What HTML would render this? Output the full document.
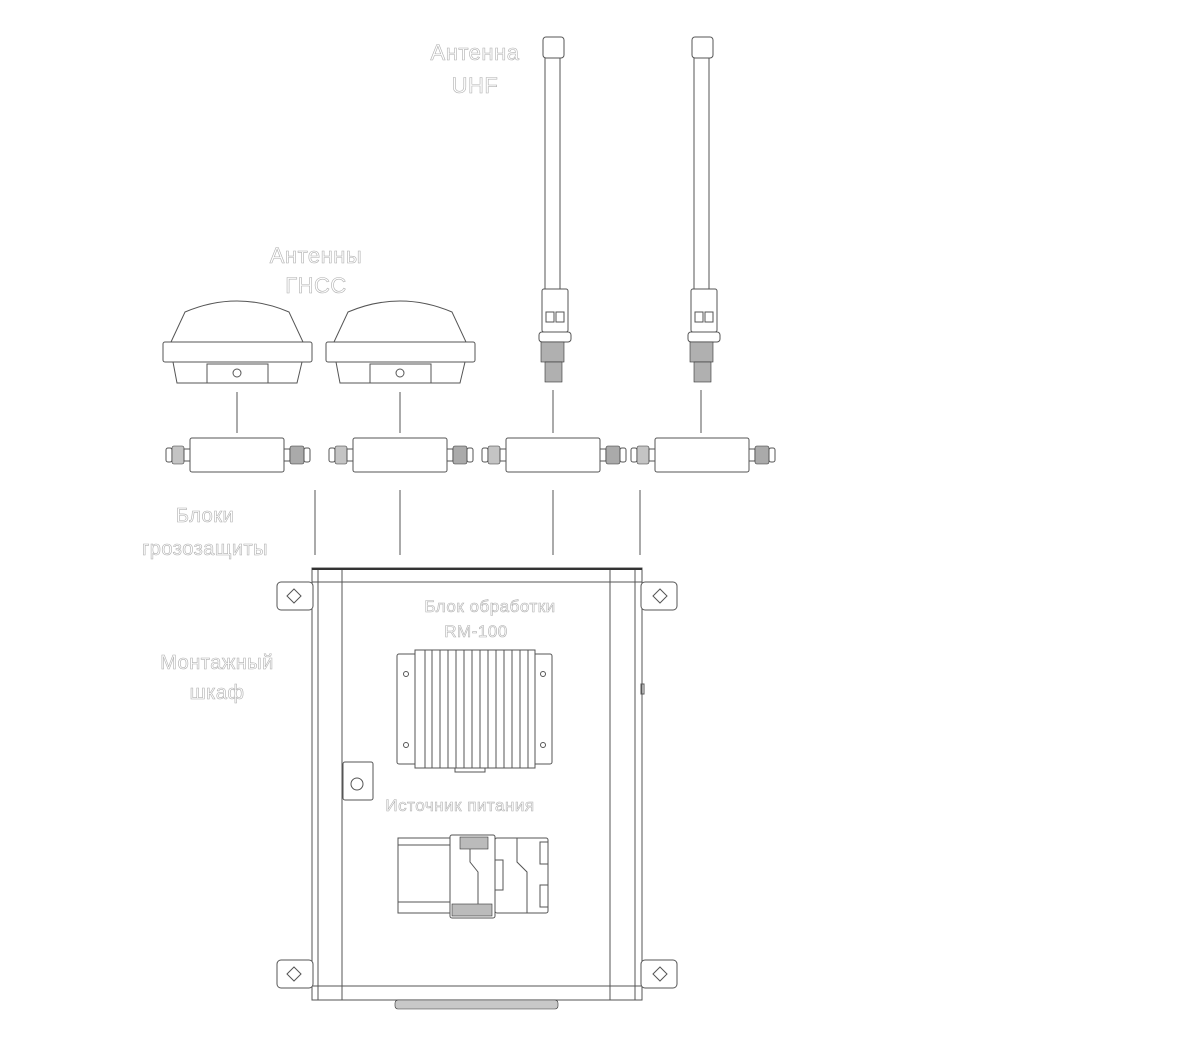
<!DOCTYPE html>
<html><head><meta charset="utf-8"><style>
html,body{margin:0;padding:0;background:#fff}
svg{display:block}
.t{font-family:"Liberation Sans",sans-serif;fill:#fff;stroke:#b0b0b0;stroke-width:0.6;text-anchor:middle;letter-spacing:0.5px}
.l{fill:none;stroke:#555;stroke-width:1}
.f{fill:#fff;stroke:#555;stroke-width:1}
.d{fill:#aaa;stroke:#333;stroke-width:0.6}
</style></head><body>
<svg width="1186" height="1038" viewBox="0 0 1186 1038" xmlns="http://www.w3.org/2000/svg">
<defs>
<g id="arr">
 <rect class="f" x="0" y="0" width="94" height="34" rx="2"/>
 <rect class="f" x="-24" y="10" width="6" height="14" rx="2"/>
 <rect class="d" x="-18" y="8" width="12" height="18" rx="2" style="fill:#c4c4c4"/>
 <rect class="f" x="-6" y="11" width="6" height="12"/>
 <rect class="f" x="94" y="11" width="6" height="12"/>
 <rect class="d" x="100" y="8" width="14" height="18" rx="2" style="fill:#aaa"/>
 <rect class="f" x="114" y="10" width="6" height="14" rx="2"/>
</g>
<g id="gnss">
 <path class="f" d="M8,44 L22,14 Q74,-8 126,14 L140,44 Z"/>
 <rect class="f" x="0" y="44" width="149" height="20" rx="2"/>
 <path class="f" d="M10,64 L139,64 L134,85 L14,85 Z"/>
 <rect class="f" x="44" y="66" width="61" height="19"/>
 <circle class="f" cx="74" cy="75" r="4"/>
</g>
<g id="uhf">
 <rect class="f" x="-10" y="0" width="21" height="21" rx="3"/>
 <line class="l" x1="-8" y1="21" x2="-8" y2="252"/>
 <line class="l" x1="7" y1="21" x2="7" y2="252"/>
 <rect class="f" x="-11" y="252" width="26" height="43" rx="2"/>
 <rect class="l" x="-7" y="275" width="8" height="10"/>
 <rect class="l" x="3" y="275" width="8" height="10"/>
 <rect class="f" x="-14" y="295" width="32" height="10" rx="3"/>
 <rect class="d" x="-12" y="305" width="23" height="20" style="fill:#b0b0b0"/>
 <rect class="d" x="-8" y="325" width="17" height="20" style="fill:#b0b0b0"/>
</g>
</defs>

<text class="t" x="475" y="60" font-size="22">Антенна</text>
<text class="t" x="475" y="93" font-size="22">UHF</text>
<text class="t" x="316" y="263" font-size="22">Антенны</text>
<text class="t" x="316" y="293" font-size="22">ГНСС</text>
<text class="t" x="205" y="522" font-size="20">Блоки</text>
<text class="t" x="205" y="555" font-size="20">грозозащиты</text>
<text class="t" x="217" y="669" font-size="20">Монтажный</text>
<text class="t" x="217" y="699" font-size="20">шкаф</text>

<use href="#uhf" x="553" y="37"/>
<use href="#uhf" x="702" y="37"/>

<use href="#gnss" x="163" y="298"/>
<use href="#gnss" x="326" y="298"/>

<line class="l" x1="237" y1="392" x2="237" y2="433"/>
<line class="l" x1="400" y1="392" x2="400" y2="433"/>
<line class="l" x1="553" y1="390" x2="553" y2="433"/>
<line class="l" x1="701" y1="390" x2="701" y2="433"/>

<use href="#arr" x="190" y="438"/>
<use href="#arr" x="353" y="438"/>
<use href="#arr" x="506" y="438"/>
<use href="#arr" x="655" y="438"/>

<line class="l" x1="315" y1="490" x2="315" y2="555"/>
<line class="l" x1="400" y1="490" x2="400" y2="555"/>
<line class="l" x1="553" y1="490" x2="553" y2="555"/>
<line class="l" x1="640" y1="490" x2="640" y2="555"/>

<rect class="f" x="312" y="568" width="330" height="432" rx="3"/>
<rect class="f" x="312" y="568" width="330" height="14"/>
<rect class="f" x="312" y="986" width="330" height="14"/>
<line class="l" x1="318" y1="568" x2="318" y2="1000"/>
<line class="l" x1="342" y1="568" x2="342" y2="1000"/>
<line class="l" x1="610" y1="568" x2="610" y2="1000"/>
<line class="l" x1="635" y1="568" x2="635" y2="1000"/>
<line x1="312" y1="569" x2="642" y2="569" stroke="#333" stroke-width="2"/>
<g>
<rect class="f" x="277" y="582" width="36" height="28" rx="4"/>
<path class="l" d="M287,596 L294,589 L301,596 L294,603 Z"/>
<rect class="f" x="641" y="582" width="36" height="28" rx="4"/>
<path class="l" d="M653,596 L660,589 L667,596 L660,603 Z"/>
<rect class="f" x="277" y="960" width="36" height="28" rx="4"/>
<path class="l" d="M287,974 L294,967 L301,974 L294,981 Z"/>
<rect class="f" x="641" y="960" width="36" height="28" rx="4"/>
<path class="l" d="M653,974 L660,967 L667,974 L660,981 Z"/>
</g>
<rect class="d" x="395" y="1000" width="163" height="9" rx="3" style="fill:#c8c8c8"/>
<rect class="l" x="641" y="684" width="3" height="10"/>

<text class="t" x="490" y="612" font-size="17">Блок обработки</text>
<text class="t" x="476" y="637" font-size="17">RM-100</text>

<rect class="f" x="397" y="654" width="155" height="110" rx="2"/>
<rect class="f" x="415" y="650" width="120" height="118"/>
<g class="l">
<line x1="425" y1="650" x2="425" y2="768"/><line x1="432" y1="650" x2="432" y2="768"/>
<line x1="440" y1="650" x2="440" y2="768"/><line x1="448" y1="650" x2="448" y2="768"/>
<line x1="456" y1="650" x2="456" y2="768"/><line x1="464" y1="650" x2="464" y2="768"/>
<line x1="472" y1="650" x2="472" y2="768"/><line x1="480" y1="650" x2="480" y2="768"/>
<line x1="488" y1="650" x2="488" y2="768"/><line x1="496" y1="650" x2="496" y2="768"/>
<line x1="504" y1="650" x2="504" y2="768"/><line x1="512" y1="650" x2="512" y2="768"/>
<line x1="520" y1="650" x2="520" y2="768"/><line x1="528" y1="650" x2="528" y2="768"/>
</g>
<circle class="l" cx="406" cy="674" r="2.5"/><circle class="l" cx="543" cy="674" r="2.5"/>
<circle class="l" cx="406" cy="745" r="2.5"/><circle class="l" cx="543" cy="745" r="2.5"/>
<rect class="l" x="455" y="768" width="30" height="4"/>

<rect class="f" x="343" y="762" width="30" height="38" rx="2"/>
<circle class="l" cx="357" cy="784" r="6"/>

<text class="t" x="460" y="811" font-size="17">Источник питания</text>

<rect class="f" x="398" y="838" width="52" height="75"/>
<line class="l" x1="398" y1="845" x2="450" y2="845"/>
<line class="l" x1="398" y1="902" x2="450" y2="902"/>
<rect class="f" x="450" y="835" width="45" height="83" rx="2"/>
<rect class="d" x="460" y="837" width="28" height="12" style="fill:#bbb"/>
<rect class="d" x="452" y="904" width="40" height="12" style="fill:#bbb"/>
<path class="l" d="M470,849 L470,862 L478,872 L478,904"/>
<rect class="f" x="495" y="838" width="53" height="75" rx="2"/>
<path class="l" d="M517,838 L517,862 L527,872 L527,913"/>
<rect class="l" x="495" y="860" width="8" height="30"/>
<rect class="l" x="540" y="842" width="8" height="22"/>
<rect class="l" x="540" y="885" width="8" height="22"/>
</svg>
</body></html>
